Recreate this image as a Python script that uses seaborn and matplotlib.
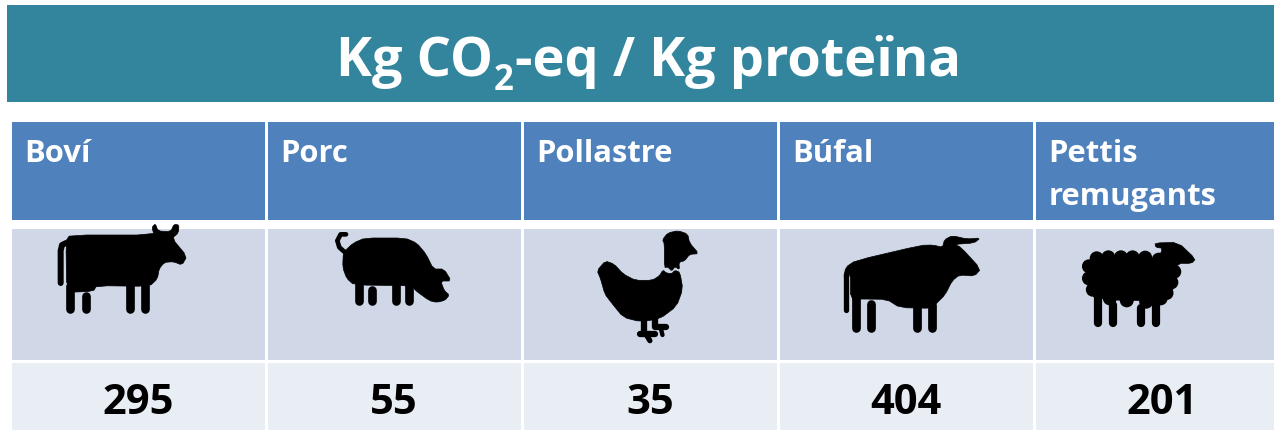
import numpy as np
import pandas as pd
import matplotlib
matplotlib.use('Agg')
import matplotlib.pyplot as plt
from matplotlib.colors import ListedColormap
from matplotlib.patches import Polygon, Rectangle, Circle
import seaborn as sns

sns.set_theme(style='white')
plt.rcParams['font.family'] = ['Open Sans', 'DejaVu Sans']

W, H = 1274, 431

title_parts = ['Kg CO', '2', '-eq / Kg proteïna']
categories = ['Boví', 'Porc', 'Pollastre', 'Búfal', 'Pettis\nremugants']
values = [295, 55, 35, 404, 201]

# colors
TEAL = '#33859E'
HEAD = '#4F81BD'
MID = '#D0D8E8'
LOW = '#E9EDF4'

fig = plt.figure(figsize=(W / 100, H / 100), dpi=100, facecolor='white')


def px_axes(x0, y0, x1, y1):
    # axes from pixel box, y counted from the top
    return fig.add_axes([x0 / W, 1 - y1 / H, (x1 - x0) / W, (y1 - y0) / H])


# three table rows, one heatmap each because heights differ
# last column runs past the right edge of the image
rows = [(121, 222, HEAD), (228, 362, MID), (362, 432, LOW)]
df = pd.DataFrame([values], columns=categories)
axs = []
for y0, y1, col in rows:
    ax = px_axes(10, y0, 1290, y1)
    sns.heatmap(df, ax=ax, cmap=ListedColormap([col]), cbar=False,
                linewidths=1.8, linecolor='white', xticklabels=False, yticklabels=False)
    ax.set_xlabel('')
    ax.set_ylabel('')
    axs.append(ax)

# header labels
for i, name in enumerate(categories):
    axs[0].text(i + 0.056, 0.18, name, color='white', fontsize=22.3, fontweight='bold',
                va='top', ha='left', linespacing=1.57)

# value row
for i, v in enumerate(values):
    axs[2].text(i + 0.5, 0.6, str(v), color='black', fontsize=30, fontweight='bold',
                va='center', ha='center')

# overlay in pixel coordinates for the banner and the icons
ov = fig.add_axes([0, 0, 1, 1], zorder=5)
ov.set_xlim(0, W)
ov.set_ylim(H, 0)
ov.axis('off')
ov.patch.set_alpha(0)

ov.add_patch(Rectangle((7, 6), W - 7, 97, color=TEAL, lw=0))

# title in pieces so the subscript can sit as low as in the original
fig.canvas.draw()
rend = fig.canvas.get_renderer()
tx = 336
for part, size, base in zip(title_parts, [39, 25, 39], [76, 90, 76]):
    t = ov.text(tx, base, part, color='white', fontsize=size, fontweight='bold', ha='left', va='baseline')
    tx = ov.transData.inverted().transform(t.get_window_extent(rend).get_points())[1][0] + 1


def smooth(pts, n=1):
    # corner cutting so the outlines look less angular
    p = np.array(pts, float)
    for _ in range(n):
        q = np.roll(p, -1, axis=0)
        p = np.column_stack([0.8 * p + 0.2 * q, 0.2 * p + 0.8 * q]).reshape(-1, 2)
    return p


# origin and x scale of the crops the outlines were traced on
LEFT = (0, 220, 3.0)
CHICK = (519, 220, 2.063)
FAR = (516, 220, 2.063)


def to_px(pts, o):
    p = np.array(pts, float)
    return np.column_stack([p[:, 0] / o[2] + o[0], p[:, 1] / 3 + o[1]])


def shape(pts, o):
    ov.add_patch(Polygon(smooth(to_px(pts, o)), closed=True, fc='black', ec='black', lw=0.5))


def stroke(xs, ys, w, o):
    p = to_px(list(zip(xs, ys)), o)
    ov.plot(p[:, 0], p[:, 1], color='black', lw=w / o[2] * 0.72,
            solid_capstyle='round', solid_joinstyle='round')


def legs(xs, tops, bottom, w, o):
    for x, t in zip(xs, tops):
        stroke([x, x], [t, bottom], w, o)


# cow
shape([(198, 65), (210, 48), (462, 48), (456, 25), (466, 14), (474, 36), (512, 38), (522, 16), (537, 18),
       (535, 42), (516, 58), (561, 112), (546, 138), (520, 128), (494, 130), (478, 148), (472, 180),
       (448, 202), (290, 200), (280, 217), (200, 220)], LEFT)
legs([211, 257, 389, 434], [200, 232, 195, 195], 270, 26, LEFT)
stroke([182, 182, 186, 198], [192, 95, 78, 72], 18, LEFT)

# pig
shape([(1030, 100), (1060, 72), (1095, 57), (1215, 57), (1250, 72), (1278, 105), (1300, 150), (1332, 150),
       (1354, 186), (1322, 186), (1333, 215), (1348, 228), (1335, 244), (1310, 250), (1288, 245), (1243, 212),
       (1240, 200), (1062, 198), (1040, 178), (1028, 145)], LEFT)
legs([1076, 1117, 1188, 1228], [190, 212, 190, 190], 245, 26, LEFT)
stroke([1038, 1022, 1012, 1018, 1035], [46, 46, 65, 85, 100], 14, LEFT)

# chicken
shape([(300, 146), (300, 75), (296, 62), (307, 42), (328, 35), (348, 45), (352, 72), (371, 104), (352, 106),
       (342, 125), (330, 130), (331, 152), (322, 143), (315, 156), (307, 144)], CHICK)
shape([(161, 155), (178, 126), (196, 135), (215, 165), (240, 184), (275, 184), (290, 170), (297, 153),
       (304, 162), (315, 164), (322, 154), (332, 160), (338, 210), (325, 262), (290, 300), (250, 308),
       (215, 295), (190, 250), (177, 225), (168, 178)], CHICK)
stroke([257, 257], [300, 345], 13, CHICK)
stroke([280, 280, 303], [295, 325, 325], 13, CHICK)
stroke([250, 280], [345, 345], 13, CHICK)
stroke([262, 270], [345, 365], 11, CHICK)
stroke([292, 296], [325, 348], 9, CHICK)

# buffalo
shape([(676, 180), (680, 145), (700, 125), (835, 79), (860, 78), (880, 85), (884, 62), (900, 50), (930, 60),
       (958, 57), (945, 72), (905, 76), (918, 85), (959, 150), (946, 171), (915, 168), (900, 185), (885, 228),
       (866, 255), (860, 268), (792, 266), (765, 241), (712, 240), (690, 240), (690, 160)], FAR)
legs([702, 733, 827, 858], [235, 255, 262, 258], 326, 18, FAR)
stroke([681, 681], [165, 272], 11, FAR)

# sheep
shape([(1318, 72), (1366, 70), (1402, 120), (1394, 133), (1366, 133), (1350, 170), (1320, 130), (1335, 88),
       (1320, 85)], FAR)
shape([(1185, 118), (1350, 118), (1362, 150), (1358, 210), (1335, 246), (1195, 242), (1178, 200)], FAR)
wool = [(1198, 118), (1222, 115), (1248, 115), (1272, 115), (1298, 116), (1326, 122), (1182, 142), (1182, 178),
        (1190, 212), (1358, 158), (1352, 190), (1342, 222), (1225, 238), (1260, 244), (1300, 248), (1330, 238)]
for c in to_px(wool, FAR):
    ov.add_patch(Circle(c, 7, fc='black', lw=0))
legs([1200, 1232, 1290, 1321], [225, 258, 268, 250], 312, 17, FAR)

fig.savefig('out.png', dpi=100)
